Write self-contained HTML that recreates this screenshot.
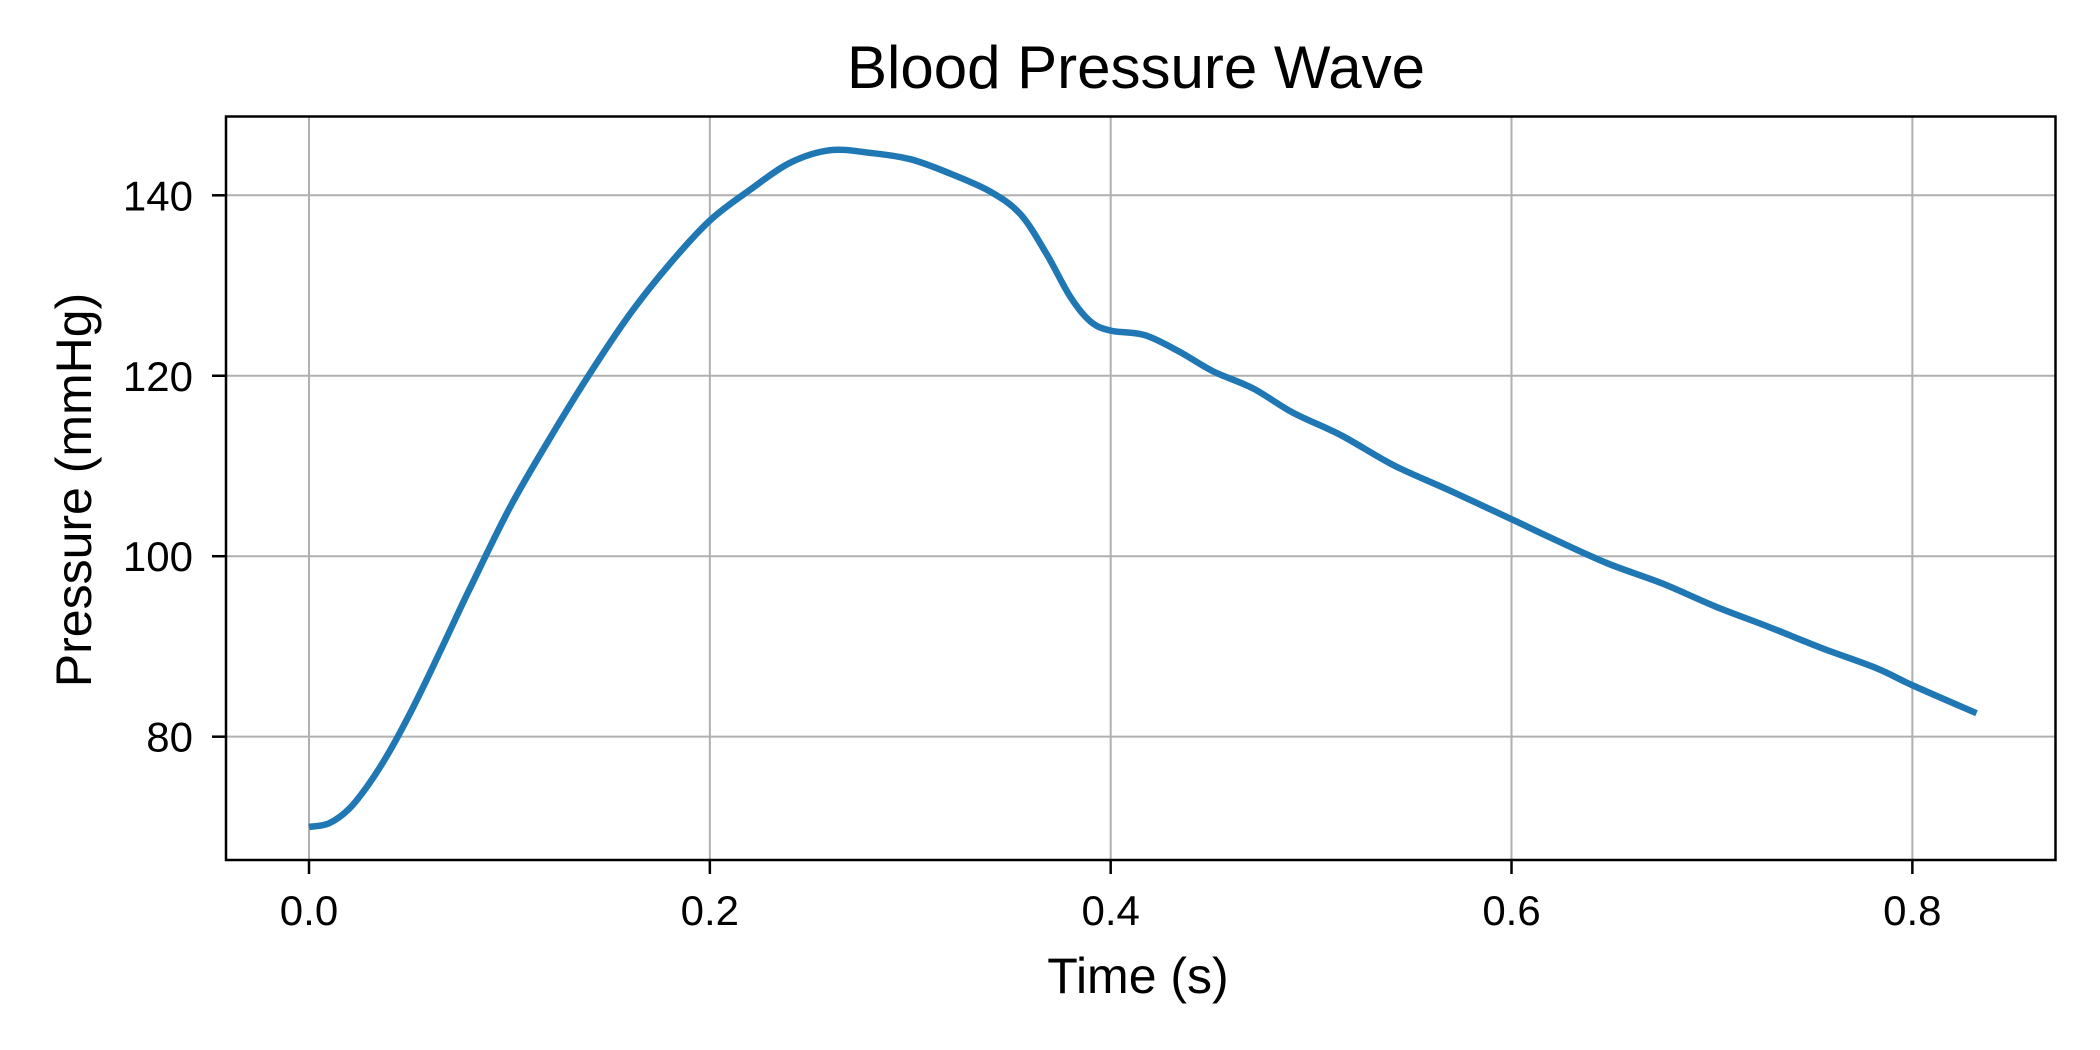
<!DOCTYPE html>
<html><head><meta charset="utf-8"><style>
html,body{margin:0;padding:0;background:#fff;}
svg{display:block;font-family:"Liberation Sans","DejaVu Sans",sans-serif;}
</style></head><body>
<svg id="chart" width="2100" height="1050" viewBox="0 0 2100 1050">
<rect x="0" y="0" width="2100" height="1050" fill="#fff"/>
<g id="grid"></g>
<g id="ticks"></g>
<path id="line" fill="none" stroke="#1f77b4" stroke-width="6.5" stroke-linejoin="round"/>
<rect x="226" y="116.5" width="1829.5" height="743.5" fill="none" stroke="#000" stroke-width="2.5"/>
<text x="1136" y="88" font-size="60" text-anchor="middle">Blood Pressure Wave</text>
<text x="1138" y="993" font-size="50" text-anchor="middle">Time (s)</text>
<text x="0" y="0" font-size="50" text-anchor="middle" transform="translate(74,490) rotate(-90)" dy="17">Pressure (mmHg)</text>
</svg>
<script>
const xTicks=[0,0.2,0.4,0.6,0.8];
const xTickLabels=["0.0","0.2","0.4","0.6","0.8"];
const yTicks=[80,100,120,140];
const yTickLabels=["80","100","120","140"];
const times=[0,0.01,0.02,0.03,0.04,0.05,0.06,0.07,0.08,0.1,0.12,0.14,0.16,0.18,0.2,0.22,0.24,0.26,0.28,0.3,0.32,0.34,0.355,0.368,0.38,0.39,0.4,0.417,0.434,0.451,0.471,0.491,0.515,0.541,0.568,0.6,0.621,0.648,0.675,0.702,0.728,0.755,0.782,0.8,0.832];
const pressures=[70.0,70.4,72.0,74.8,78.3,82.4,86.9,91.6,96.3,105.3,113,120.2,126.8,132.4,137.2,140.6,143.6,145,144.7,144,142.4,140.4,137.9,133.5,128.7,126,125,124.5,122.7,120.5,118.6,115.9,113.4,110.1,107.4,104.1,101.9,99.2,97,94.4,92.2,89.8,87.6,85.7,82.6];
const X=t=>309+t*2004.2;
const Y=v=>195.3+(140-v)*9.023;
const ns="http://www.w3.org/2000/svg";
const grid=document.getElementById('grid'),ticks=document.getElementById('ticks');
function mk(tag,attrs,parent){const e=document.createElementNS(ns,tag);for(const k in attrs)e.setAttribute(k,attrs[k]);parent.appendChild(e);return e;}
xTicks.forEach((t,i)=>{
 const g=mk('line',{x1:X(t),x2:X(t),y1:116.5,y2:860,stroke:'#b0b0b0','stroke-width':2},grid);
 
 
 const tk=mk('line',{x1:X(t),x2:X(t),y1:860,y2:874,stroke:'#000','stroke-width':2.5},ticks);
 
 
 const tx=mk('text',{x:X(t),y:925,'font-size':42,'text-anchor':'middle'},ticks);
 tx.textContent=xTickLabels[i];
 
 
});
yTicks.forEach((v,i)=>{
 const g=mk('line',{x1:226,x2:2055.5,y1:Y(v),y2:Y(v),stroke:'#b0b0b0','stroke-width':2},grid);
 
 
 const tk=mk('line',{x1:212,x2:226,y1:Y(v),y2:Y(v),stroke:'#000','stroke-width':2.5},ticks);
 
 
 const tx=mk('text',{x:193,y:Y(v)+15,'font-size':42,'text-anchor':'end'},ticks);
 tx.textContent=yTickLabels[i];
 
 
});
const pts=times.map((t,i)=>[X(t),Y(pressures[i])]);
let d='M'+pts[0][0]+','+pts[0][1];
for(let i=0;i<pts.length-1;i++){
 const p0=pts[Math.max(0,i-1)],p1=pts[i],p2=pts[i+1],p3=pts[Math.min(pts.length-1,i+2)];
 const c1=[p1[0]+(p2[0]-p0[0])/6,p1[1]+(p2[1]-p0[1])/6];
 const c2=[p2[0]-(p3[0]-p1[0])/6,p2[1]-(p3[1]-p1[1])/6];
 d+=' C'+c1[0]+','+c1[1]+' '+c2[0]+','+c2[1]+' '+p2[0]+','+p2[1];
}
document.getElementById('line').setAttribute('d',d);
</script>
</body></html>
